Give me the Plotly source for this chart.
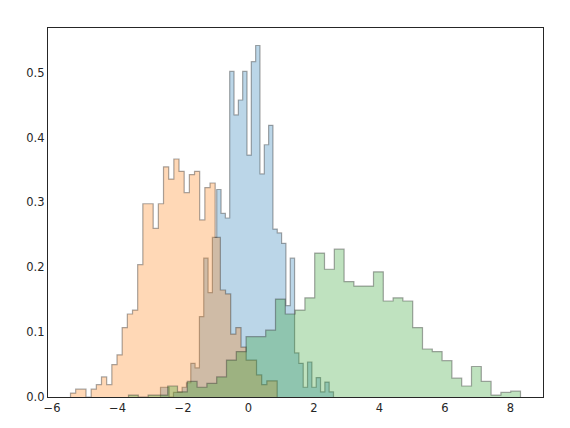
import numpy as np
import plotly.graph_objects as go

# ============================
# histogram data (density, 40 bins each)

# x1 ~ centred on 0
x1_range = [-2.687, 2.595]
x1_density = [0.015, 0.015, 0.0, 0.007, 0.007, 0.015, 0.022, 0.052, 0.045, 0.124,
              0.214, 0.161, 0.246, 0.320, 0.283, 0.276, 0.502, 0.435, 0.458, 0.502,
              0.373, 0.517, 0.542, 0.344, 0.389, 0.419, 0.259, 0.253, 0.237, 0.141,
              0.214, 0.068, 0.052, 0.015, 0.054, 0.015, 0.030, 0.008, 0.023, 0.008]

# x2 ~ centred on -2
x2_range = [-5.435, 0.876]
x2_density = [0.006, 0.012, 0.012, 0.0, 0.012, 0.019, 0.031, 0.019, 0.050, 0.065,
              0.107, 0.128, 0.134, 0.204, 0.298, 0.298, 0.260, 0.298, 0.355, 0.336,
              0.367, 0.348, 0.315, 0.343, 0.348, 0.273, 0.323, 0.330, 0.246, 0.165,
              0.159, 0.097, 0.107, 0.077, 0.057, 0.057, 0.034, 0.019, 0.025, 0.025]

# x3 ~ centred on 3
x3_range = [-3.664, 8.305]
x3_density = [0.003, 0.0, 0.003, 0.003, 0.017, 0.008, 0.024, 0.015, 0.021, 0.031,
              0.057, 0.070, 0.093, 0.093, 0.103, 0.151, 0.128, 0.134, 0.153, 0.222,
              0.197, 0.228, 0.178, 0.171, 0.171, 0.193, 0.148, 0.153, 0.148, 0.107,
              0.074, 0.070, 0.056, 0.029, 0.017, 0.047, 0.024, 0.003, 0.007, 0.009]

x_ticks = [-6, -4, -2, 0, 2, 4, 6, 8]
y_ticks = [0.0, 0.1, 0.2, 0.3, 0.4, 0.5]

colors = ['rgba(31,119,180,0.3)', 'rgba(255,127,14,0.3)', 'rgba(44,160,44,0.3)']
edge_color = 'rgba(40,40,40,0.4)'
text_color = '#262626'

# ============================

def stepfilled(hist_range, density, fill):
    # outline of a stepfilled histogram: up at first edge, down at last edge
    edges = np.linspace(hist_range[0], hist_range[1], len(density) + 1)
    x = np.concatenate([[edges[0]], edges])
    y = np.concatenate([[0.0], density, [0.0]])
    return go.Scatter(
        x=x,
        y=y,
        mode='lines',
        line=dict(shape='hv', color=edge_color, width=1.2),
        fill='tozeroy',
        fillcolor=fill,
        hoverinfo='skip',
        showlegend=False,
    )

fig = go.Figure()
fig.add_trace(stepfilled(x1_range, x1_density, colors[0]))
fig.add_trace(stepfilled(x2_range, x2_density, colors[1]))
fig.add_trace(stepfilled(x3_range, x3_density, colors[2]))

axis_style = dict(
    showgrid=False,
    zeroline=False,
    showline=True,
    mirror=True,
    linecolor=text_color,
    linewidth=1.3,
    ticks='',
    tickfont=dict(size=11.5, color=text_color),
)

# the page body adds an 8px offset, so the figure is a bit smaller than the window
fig.update_layout(
    width=562,
    height=420,
    margin=dict(l=40, r=27, t=20, b=31),
    paper_bgcolor='white',
    plot_bgcolor='white',
    font=dict(family='DejaVu Sans', size=11.5, color=text_color),
    xaxis=dict(axis_style, range=[-6.122, 8.992], tickvals=x_ticks),
    yaxis=dict(axis_style, range=[0, 0.569], tickvals=y_ticks, tickformat='.1f'),
)

fig.write_html("out.html")
